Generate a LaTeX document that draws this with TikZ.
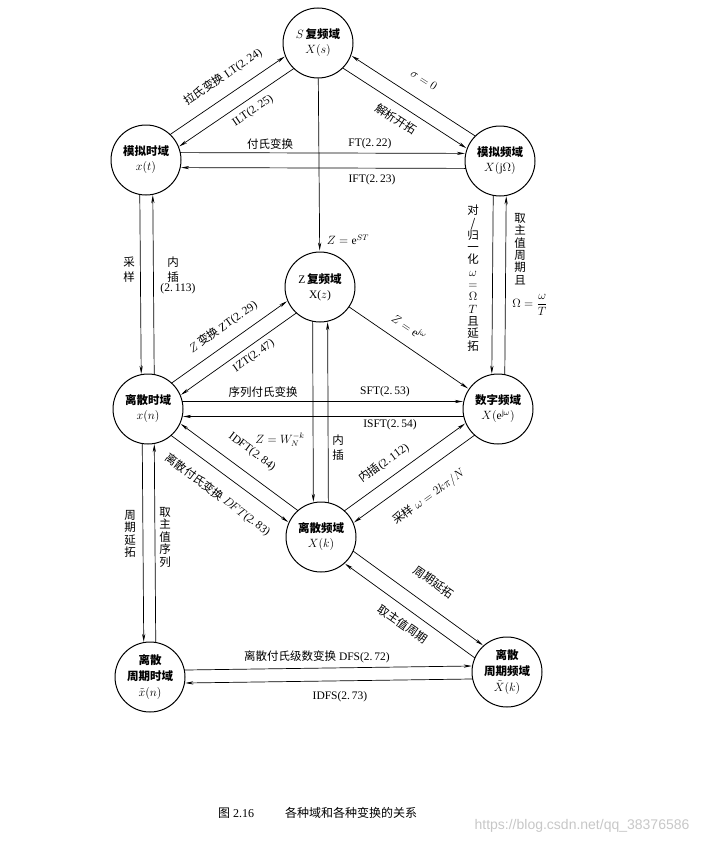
\documentclass[tikz,border=0pt]{standalone}
\usepackage{fontspec}
\setmainfont{Liberation Serif}
\newfontfamily\cjk{Noto Sans CJK SC}
\newfontfamily\wmfont{Liberation Sans}
\usetikzlibrary{calc,arrows.meta}
\newcommand\zh[1]{{\cjk #1}}
\newcommand\zb[1]{{\cjk\bfseries #1}}
\newcommand\dbl[4]{%
  \draw[#4] ($ ($(#1.center)!34.2pt!(#2.center)$) !#3!90:(#2.center) $) --
            ($ ($(#2.center)!34.2pt!(#1.center)$) !#3!-90:(#1.center) $);}
\tikzset{
  dom/.style={circle,draw,line width=1pt,minimum size=70pt,inner sep=0pt,align=center,
    font=\fontsize{11.5}{15}\selectfont},
  conn/.style={line width=0.7pt},
  arr/.style={conn,-{Stealth[length=8pt,width=3.2pt]},shorten >=1pt},
  lab/.style={font=\fontsize{11.5}{13}\selectfont,inner sep=1pt},
  vlab/.style={align=center,inner sep=0pt,font=\cjk\fontsize{11.5}{#1}\selectfont},
  vlab/.default=15pt,
}
\begin{document}
\begin{tikzpicture}[x=1pt,y=-1pt]
\useasboundingbox (0,0) rectangle (714,843);
% domains
\node[dom] (S) at (318,43) {$S$\,\zb{复频域}\\$X(s)$};
\node[dom] (A) at (146,160) {\zb{模拟时域}\\$x(t)$};
\node[dom] (F) at (500,161) {\zb{模拟频域}\\$X(\mathrm{j}\Omega)$};
\node[dom] (Z) at (320,287) {Z\,\zb{复频域}\\X($z$)};
\node[dom] (D) at (148,409) {\zb{离散时域}\\$x(n)$};
\node[dom] (W) at (498,409) {\zb{数字频域}\\$X(\mathrm{e}^{\mathrm{j}\omega})$};
\node[dom] (K) at (321,537) {\zb{离散频域}\\$X(k)$};
\node[dom,font=\fontsize{11.5}{16}\selectfont] (Q) at (150,677) {\zb{离散}\\\zb{周期时域}\\$\tilde{x}(n)$};
\node[dom,font=\fontsize{11.5}{16}\selectfont] (P) at (507,672) {\zb{离散}\\\zb{周期频域}\\$\tilde{X}(k)$};
% connectors
\dbl{A}{S}{7.5pt}{arr}
\dbl{S}{A}{7.5pt}{arr}
\dbl{F}{S}{-7.5pt}{arr}
\dbl{S}{F}{-7.5pt}{arr}
\dbl{A}{F}{7.5pt}{arr}
\dbl{F}{A}{7.5pt}{arr}
\dbl{A}{D}{-6.5pt}{arr}
\dbl{D}{A}{-6.5pt}{arr}
\dbl{F}{W}{-6.5pt}{arr}
\dbl{W}{F}{-6.5pt}{arr}
\draw[arr] (S) -- (Z);
\dbl{D}{Z}{7.5pt}{arr}
\dbl{Z}{D}{7.5pt}{arr}
\draw[arr] (Z) -- (W);
\dbl{D}{W}{7.5pt}{arr}
\dbl{W}{D}{7.5pt}{arr}
\dbl{Z}{K}{-7.5pt}{arr}
\dbl{K}{Z}{-7.5pt}{arr}
\dbl{K}{D}{-7.5pt}{arr}
\dbl{D}{K}{-7.5pt}{arr}
\dbl{K}{W}{7.5pt}{arr}
\dbl{W}{K}{7.5pt}{arr}
\dbl{D}{Q}{-6pt}{arr}
\dbl{Q}{D}{-6pt}{arr}
\dbl{K}{P}{7.5pt}{arr}
\dbl{P}{K}{7.5pt}{arr}
\dbl{Q}{P}{6.5pt}{arr}
\dbl{P}{Q}{6.5pt}{arr}
% labels
\node[lab,rotate=34.4] (lLT) at (223,77) {\zh{拉氏变换} LT(2.\,24)};
\node[lab,rotate=34.4] (lILT) at (253,111) {ILT(2.\,25)};
\node[lab,rotate=-33] (lsig) at (424,80) {$\sigma=0$};
\node[lab,rotate=-33] (ljx) at (396,119) {\zh{解析开拓}};
\node[lab] (lfs) at (270,144) {\zh{付氏变换}};
\node[lab] (lFT) at (370,144) {FT(2.\,22)};
\node[lab] (lIFT) at (372,180) {IFT(2.\,23)};
\node[vlab] (lcy) at (129,270) {采\\样};
\node[vlab] (lnc) at (173,270) {内\\插};
\node[lab] (lnc2) at (178,289) {(2.\,113)};
\node[lab] (lzst) at (348,240) {$Z=\mathrm{e}^{ST}$};
\node[vlab=12.3pt] (lgy) at (473,278) {对\\/\\归\\一\\化\\$\omega$\\$=$\\$\Omega$\\$T$\\且\\延\\拓};
\node[vlab=12.4pt] (lqz) at (520,249) {取\\主\\值\\周\\期\\且};
\node[lab] (lom) at (530,305) {$\Omega=\displaystyle\frac{\omega}{T}$};
\node[lab,rotate=35.3] (lZT) at (223,327) {$Z$\,\zh{变换} ZT(2.\,29)};
\node[lab,rotate=35.3] (lIZT) at (254,356) {IZT(2.\,47)};
\node[lab,rotate=-34] (lzjw) at (409,327) {$Z=\mathrm{e}^{\mathrm{j}\omega}$};
\node[lab] (lxl) at (263,392) {\zh{序列付氏变换}};
\node[lab] (lSFT) at (385,392) {SFT(2.\,53)};
\node[lab] (lISFT) at (390,425) {ISFT(2.\,54)};
\node[lab] (lzw) at (280,440) {$Z=W_N^{-k}$};
\node[vlab] (lnc3) at (338,448) {内\\插};
\node[lab,rotate=-36.7] (lIDFT) at (252,452) {IDFT(2.\,84)};
\node[lab,rotate=-36.7] (lDFT) at (218,495) {\zh{离散付氏变换} $D\!FT$(2.\,83)};
\node[lab,rotate=36] (lnc4) at (384,463) {\zh{内插}(2.\,112)};
\node[lab,rotate=36] (lcy2) at (429,497) {\zh{采样} $\omega=2k\pi/N$};
\node[vlab=12.3pt] (lzq) at (130,534) {周\\期\\延\\拓};
\node[vlab=12.5pt] (lqx) at (165,537) {取\\主\\值\\序\\列};
\node[lab,rotate=-35] (lzq2) at (434,582) {\zh{周期延拓}};
\node[lab,rotate=-35] (lqz2) at (403,624) {\zh{取主值周期}};
\node[lab] (lDFS) at (317,657) {\zh{离散付氏级数变换} DFS(2.\,72)};
\node[lab] (lIDFS) at (340,697) {IDFS(2.\,73)};
% caption
\node[font=\fontsize{12}{14}\selectfont] (cap1) at (236,813) {\zh{图} 2.16};
\node[font=\fontsize{12}{14}\selectfont] (cap2) at (351,813) {\zh{各种域和各种变换的关系}};
\node[font=\wmfont\fontsize{14}{16}\selectfont,text=black!22] (wm) at (582,826) {https://blog.csdn.net/qq\_38376586};
\end{tikzpicture}
\end{document}
